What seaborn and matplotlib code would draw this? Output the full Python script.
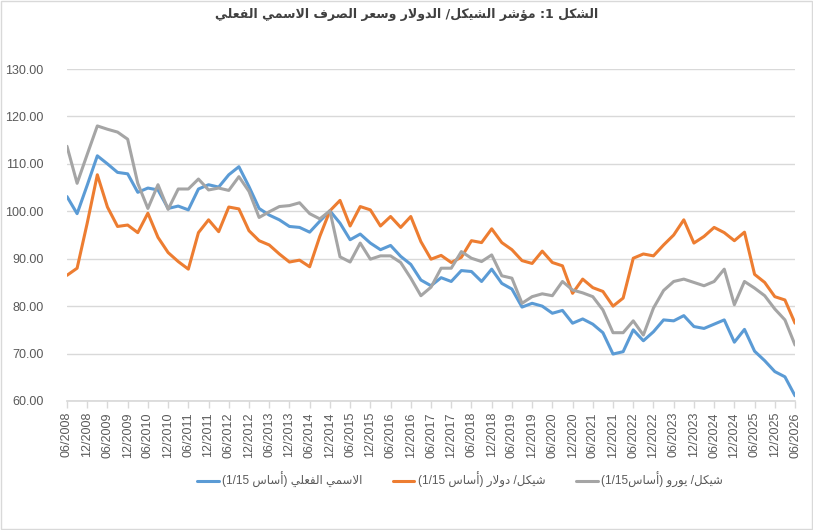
import re
import pandas as pd
import seaborn as sns
import matplotlib
matplotlib.use("Agg")
import matplotlib.pyplot as plt
from matplotlib.patches import Rectangle

# quarterly values, 06/2008 .. 06/2026 (base 1/15 = 100)
nominal_effective = [103.1, 99.5, 105.5, 111.7, 110.0, 108.2, 107.9, 104.0, 104.9, 104.5,
                     100.6, 101.1, 100.3, 104.7, 105.6, 105.1, 107.7, 109.4, 105.2, 100.6,
                     99.2, 98.2, 96.8, 96.6, 95.6, 97.9, 100.1, 97.5, 94.0, 95.2,
                     93.3, 91.9, 92.8, 90.5, 88.8, 85.5, 84.3, 86.0, 85.2, 87.5,
                     87.3, 85.2, 87.8, 84.8, 83.6, 79.8, 80.6, 80.0, 78.5, 79.1,
                     76.4, 77.3, 76.2, 74.4, 69.9, 70.4, 75.0, 72.7, 74.6, 77.1,
                     76.9, 78.0, 75.7, 75.3, 76.2, 77.1, 72.4, 75.1, 70.5, 68.5,
                     66.2, 65.1, 61.1]
shekel_dollar = [86.5, 88.0, 97.5, 107.7, 100.9, 96.8, 97.1, 95.5, 99.6, 94.5,
                 91.3, 89.4, 87.8, 95.5, 98.2, 95.7, 100.9, 100.5, 95.9, 93.8,
                 92.9, 91.0, 89.3, 89.7, 88.3, 94.7, 100.1, 102.3, 96.9, 101.0,
                 100.3, 96.9, 98.9, 96.6, 98.9, 93.6, 89.9, 90.7, 89.2, 90.3,
                 93.8, 93.4, 96.3, 93.4, 91.9, 89.6, 89.0, 91.6, 89.2, 88.5,
                 82.7, 85.7, 83.9, 83.1, 80.0, 81.7, 90.1, 91.0, 90.6, 92.9,
                 95.0, 98.2, 93.3, 94.7, 96.6, 95.5, 93.8, 95.6, 86.7, 85.0,
                 82.0, 81.3, 76.4]
shekel_euro = [113.7, 105.9, 112.0, 118.0, 117.3, 116.7, 115.2, 105.9, 100.6, 105.6,
               100.4, 104.7, 104.7, 106.8, 104.5, 104.9, 104.4, 107.3, 104.2, 98.7,
               99.9, 101.0, 101.2, 101.8, 99.5, 98.4, 100.1, 90.4, 89.3, 93.3,
               89.9, 90.6, 90.6, 89.2, 85.9, 82.2, 84.0, 88.0, 88.0, 91.5,
               90.1, 89.4, 90.8, 86.4, 85.9, 80.6, 82.0, 82.6, 82.2, 85.2,
               83.4, 82.8, 82.0, 79.2, 74.4, 74.4, 76.9, 73.9, 79.6, 83.3,
               85.2, 85.7, 85.0, 84.3, 85.2, 87.8, 80.3, 85.2, 83.8, 82.2,
               79.4, 77.1, 71.8]

quarters = pd.date_range("2008-06-01", "2026-06-01", freq="3MS")
quarter_labels = quarters.strftime("%m/%Y").tolist()

title_text = "الشكل 1: مؤشر الشيكل/ الدولار وسعر الصرف الاسمي الفعلي"
series_names = ["الاسمي الفعلي (أساس 1/15)",
                "شيكل/ دولار (أساس 1/15)",
                "شيكل/ يورو (أساس1/15)"]
colors = ["#5B9BD5", "#ED7D31", "#A5A5A5"]

# --- tiny arabic shaper (matplotlib has no shaping / bidi) ---
FORMS = {
    "ا": (0xFE8D, 0xFE8E, None, None), "أ": (0xFE83, 0xFE84, None, None),
    "ؤ": (0xFE85, 0xFE86, None, None), "د": (0xFEA9, 0xFEAA, None, None),
    "ر": (0xFEAD, 0xFEAE, None, None), "و": (0xFEED, 0xFEEE, None, None),
    "س": (0xFEB1, 0xFEB2, 0xFEB3, 0xFEB4), "ش": (0xFEB5, 0xFEB6, 0xFEB7, 0xFEB8),
    "ص": (0xFEB9, 0xFEBA, 0xFEBB, 0xFEBC), "ع": (0xFEC9, 0xFECA, 0xFECB, 0xFECC),
    "ف": (0xFED1, 0xFED2, 0xFED3, 0xFED4), "ك": (0xFED9, 0xFEDA, 0xFEDB, 0xFEDC),
    "ل": (0xFEDD, 0xFEDE, 0xFEDF, 0xFEE0), "م": (0xFEE1, 0xFEE2, 0xFEE3, 0xFEE4),
    "ي": (0xFEF1, 0xFEF2, 0xFEF3, 0xFEF4),
    "لا": (0xFEFB, 0xFEFC, None, None), "لأ": (0xFEF7, 0xFEF8, None, None),
}


def shape_word(w):
    letters = []
    i = 0
    while i < len(w):
        if w[i] == "ل" and i + 1 < len(w) and w[i + 1] in "اأ":
            letters.append(w[i:i + 2])
            i += 2
        else:
            letters.append(w[i])
            i += 1
    out = []
    for k, ch in enumerate(letters):
        iso, fin, ini, med = FORMS[ch]
        prev_joins = k > 0 and FORMS[letters[k - 1]][2] is not None
        next_joins = ini is not None and k + 1 < len(letters)
        if prev_joins and next_joins:
            cp = med
        elif prev_joins:
            cp = fin
        elif next_joins:
            cp = ini
        else:
            cp = iso
        out.append(chr(cp))
    return "".join(reversed(out))


def ar(text):
    # shape arabic runs and lay the line out right to left
    runs = re.findall(r"[\u0600-\u06FF]+|[0-9]+(?:[/.][0-9]+)*|.", text)
    res = []
    for r in runs:
        if re.match(r"[\u0600-\u06FF]", r):
            res.append(shape_word(r))
        elif r in "()":
            res.append({"(": ")", ")": "("}[r])
        else:
            res.append(r)
    return "".join(res[::-1])


df = pd.DataFrame({"q": list(range(len(quarters))) * 3,
                   "value": nominal_effective + shekel_dollar + shekel_euro,
                   "series": [n for n in series_names for _ in quarters]})

sns.set_theme(style="white")
plt.rcParams["font.family"] = ["Liberation Sans", "DejaVu Sans"]

fig = plt.figure(figsize=(8.13, 5.30), dpi=100)
ax = fig.add_axes([0.0824, 0.2434, 0.8955, 0.6264])

sns.lineplot(data=df, x="q", y="value", hue="series", hue_order=series_names,
             palette=colors, linewidth=2.2, legend=False, ax=ax)

ax.set_xlim(0, len(quarters) - 1)
ax.set_ylim(60, 130)
ax.set_yticks(range(60, 131, 10))
ax.set_yticklabels(["%.2f" % v for v in range(60, 131, 10)])
ax.set_xticks(range(0, len(quarters), 2))
ax.set_xticklabels(quarter_labels[::2], rotation=90)
ax.set_xlabel("")
ax.set_ylabel("")
ax.yaxis.grid(True, color="#D9D9D9", linewidth=1)
ax.set_axisbelow(True)
for s in ["left", "right", "top"]:
    ax.spines[s].set_visible(False)
ax.spines["bottom"].set_color("#D9D9D9")
ax.tick_params(axis="x", bottom=True, length=5, color="#D9D9D9", width=1,
               labelsize=9, labelcolor="#595959", pad=3)
ax.tick_params(axis="y", left=False, labelsize=9, labelcolor="#595959", pad=11)

handles = ax.get_lines()[:3]
fig.legend(handles, [ar(n) for n in series_names], loc="center", ncol=3,
           bbox_to_anchor=(0.566, 0.094), frameon=False, fontsize=8.5,
           labelcolor="#595959", handlelength=1.8, columnspacing=2.6,
           handletextpad=0.3)

fig.text(0.5, 0.972, ar(title_text), ha="center", va="center",
         fontsize=9, fontweight="bold", color="#404040",
         family=["DejaVu Sans"])

fig.add_artist(Rectangle((0.001, 0.001), 0.998, 0.997, transform=fig.transFigure,
                         fill=False, edgecolor="#D9D9D9", linewidth=1))

fig.savefig("out.png", dpi=100)
